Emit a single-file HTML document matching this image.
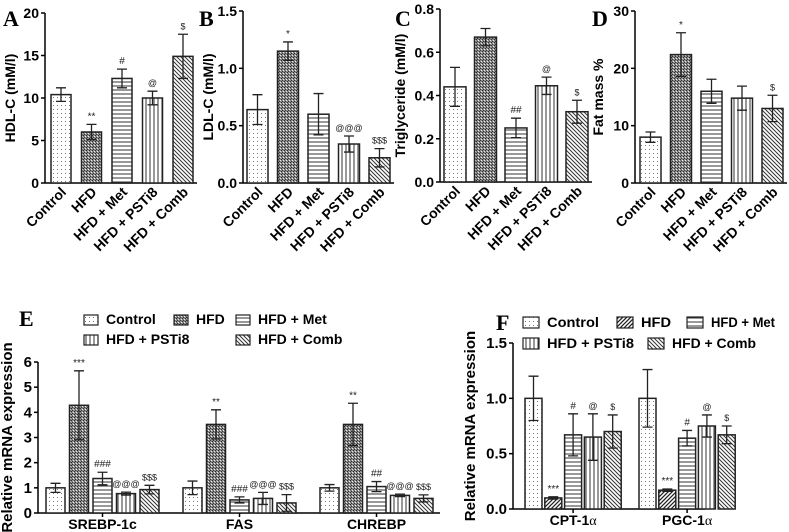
<!DOCTYPE html>
<html><head><meta charset="utf-8"><style>
body{margin:0;background:#fff}
svg{display:block;font-family:"Liberation Sans",Arial,sans-serif;font-weight:bold}
</style></head><body>
<svg id="fig" width="789" height="532" viewBox="0 0 789 532" xmlns="http://www.w3.org/2000/svg">
<defs>
<pattern id="p0" width="4" height="4" patternUnits="userSpaceOnUse"><rect width="4" height="4" fill="#fff"/><rect x="1" y="1" width="1" height="1" fill="#777"/></pattern>
<pattern id="p1" width="3" height="3" patternUnits="userSpaceOnUse"><rect width="3" height="3" fill="#999"/><path d="M0 3L3 0" stroke="#222" stroke-width="0.9"/><rect x="1" y="1" width="1" height="1" fill="#eee"/></pattern>
<pattern id="p1f" width="4" height="4" patternUnits="userSpaceOnUse"><rect width="4" height="4" fill="#fff"/><path d="M-1 1L1 -1M0 4L4 0M3 5L5 3" stroke="#222" stroke-width="1.3"/></pattern>
<pattern id="p2" width="4" height="4" patternUnits="userSpaceOnUse"><rect width="4" height="4" fill="#fff"/><path d="M0 2H4" stroke="#333" stroke-width="1"/></pattern>
<pattern id="p3" width="4" height="4" patternUnits="userSpaceOnUse"><rect width="4" height="4" fill="#fff"/><path d="M2 0V4" stroke="#333" stroke-width="1"/></pattern>
<pattern id="p4" width="4" height="4" patternUnits="userSpaceOnUse"><rect width="4" height="4" fill="#fff"/><path d="M-1 -1L5 5M-1 3L1 5M3 -1L5 1" stroke="#333" stroke-width="1"/></pattern>
</defs>
</svg>
<script>
const groups = ["Control","HFD","HFD + Met","HFD + PSTi8","HFD + Comb"];
const aVals = [10.4,6.0,12.3,10.0,14.9];
const aErr = [0.8,0.9,1.1,0.8,2.6];
const aMarks = ["","**","#","@","$"];
const aTicks = ["0","5","10","15","20"];
const bVals = [0.64,1.15,0.60,0.34,0.22];
const bErr = [0.13,0.08,0.18,0.07,0.08];
const bMarks = ["","*","","@@@","$$$"];
const bTicks = ["0.0","0.5","1.0","1.5"];
const cVals = [0.44,0.67,0.25,0.445,0.325];
const cErr = [0.09,0.04,0.045,0.04,0.053];
const cMarks = ["","","##","@","$"];
const cTicks = ["0.0","0.2","0.4","0.6","0.8"];
const dVals = [8,22.4,16,14.8,13];
const dErr = [0.9,3.8,2.1,2.1,2.3];
const dMarks = ["","*","","","$"];
const dTicks = ["0","10","20","30"];
const eGenes = ["SREBP-1c","FAS","CHREBP"];
const eVals = [[1.0,4.28,1.37,0.77,0.93],[1.0,3.52,0.52,0.58,0.4],[1.0,3.52,1.05,0.7,0.58]];
const eErr = [[0.18,1.37,0.25,0.06,0.17],[0.27,0.58,0.12,0.24,0.33],[0.13,0.84,0.2,0.05,0.14]];
const eMarks = [["","***","###","@@@","$$$"],["","**","###","@@@","$$$"],["","**","##","@@@","$$$"]];
const eTicks = ["0","1","2","3","4","5","6"];
const fGenes = ["CPT-1","PGC-1"];
const fVals = [[1.0,0.1,0.67,0.65,0.7],[1.0,0.17,0.64,0.75,0.67]];
const fErr = [[0.2,0.01,0.19,0.21,0.15],[0.26,0.01,0.07,0.1,0.08]];
const fMarks = [["","***","#","@","$"],["","***","#","@","$"]];
const fTicks = ["0.0","0.5","1.0","1.5"];

const svg=document.getElementById('fig');
const NS="http://www.w3.org/2000/svg";
function mk(tag,attrs,parent){const e=document.createElementNS(NS,tag);for(const k in attrs)e.setAttribute(k,attrs[k]);(parent||svg).appendChild(e);return e;}
function txt(x,y,s,size,anchor,parent,extra){const t=mk('text',Object.assign({x:x,y:y,'font-size':size,'text-anchor':anchor||'middle'},extra||{}),parent);t.textContent=s;return t;}

function axisY(g,ax,y0,ytop,ticks,label,lx,fs,lfs){
  mk('line',{x1:ax,y1:y0,x2:ax,y2:ytop,stroke:'#000','stroke-width':1.5},g);
  const n=ticks.length-1;
  ticks.forEach((t,i)=>{const y=y0-(y0-ytop)*i/n;
    mk('line',{x1:ax-4,y1:y,x2:ax,y2:y,stroke:'#000','stroke-width':1.5},g);
    const tl=txt(ax-6,y+5,t,fs,'end',g);
    
    });
  const yl=txt(lx,(y0+ytop)/2,label,lfs,'middle',g,{transform:`rotate(-90 ${lx} ${(y0+ytop)/2})`});
  
  
}
function bar(g,x,w,y0,yOf,v,e,pat,mark,i){
  const yt=yOf(v);
  const r=mk('rect',{x:x,y:yt,width:w,height:y0-yt,fill:`url(#${pat})`,stroke:'#222','stroke-width':1.5},g);
  
  
  const cx=x+w/2,y1=yOf(v+e),y2=yOf(v-e);
  const eb=mk('path',{d:`M${cx} ${y1}V${y2}M${cx-5} ${y1}H${cx+5}M${cx-5} ${y2}H${cx+5}`,stroke:'#222','stroke-width':1.3,fill:'none'},g);
  
  
  if(mark){const m=txt(cx,y1-5,mark,mark[0]=='*'||mark[0]=='#'?10:9,'middle',g,{'font-weight':'normal',fill:'#222'});
    
    }
}
const pats=['p0','p1','p2','p3','p4'];
function topPanel(name,letter,lx0,ax,y0,ytop,ticks,vals,err,marks,label,ylx,first,w){
  const g=mk('g',{});
  
  
  const L=txt(lx0,26,letter,22,'start',g,{'font-family':'"Liberation Serif",serif'});
  
  
  const max=parseFloat(ticks[ticks.length-1]);
  const yOf=v=>y0-(y0-ytop)*v/max;
  axisY(g,ax,y0,ytop,ticks,label,ylx,14,14);
  const step=30.5;
  mk('line',{x1:ax,y1:y0,x2:first+4*step+w+4,y2:y0,stroke:'#000','stroke-width':1.5},g);
  vals.forEach((v,i)=>{const x=first+i*step;bar(g,x,w,y0,yOf,v,err[i],pats[i],marks[i],i);
    const cx=x+w/2;
    const t=txt(cx+6,y0+10,groups[i],14,'end',g,{transform:`rotate(-45 ${cx+6} ${y0+10})`});
    
    });
}
topPanel('a','A',3,45,183,13,aTicks,aVals,aErr,aMarks,'HDL-C (mM/l)',15,51,20);
topPanel('b','B',199,243,183,11,bTicks,bVals,bErr,bMarks,'LDL-C (mM/l)',213,247,21);
topPanel('c','C',395,440,182,9,cTicks,cVals,cErr,cMarks,'Triglyceride (mM/l)',405,444,22);
topPanel('d','D',592,635,183,11,dTicks,dVals,dErr,dMarks,'Fat mass %',603,640,21);

function legend(g,xs,ys,pl,size,bw,tl){
  groups.forEach((n,i)=>{const x=xs[i],y=ys[i];
    const b=mk('rect',{x:x,y:y-bw[1]+1,width:bw[0],height:bw[1],fill:`url(#${pl[i]})`,stroke:'#222','stroke-width':1.2},g);
    
    
    const ex=tl?{textLength:tl[i],lengthAdjust:'spacingAndGlyphs'}:{};
    const t=txt(x+bw[0]+8,y,n,size,'start',g,ex);
    
    });
}
function geneGroup(g,ax,y0,ytop,ticks,genes,vals,err,marks,start,gstep,step,w,pl,axEnd,alpha){
  const max=parseFloat(ticks[ticks.length-1]);
  const yOf=v=>y0-(y0-ytop)*v/max;
  mk('line',{x1:ax,y1:y0,x2:axEnd,y2:y0,stroke:'#000','stroke-width':1.5},g);
  genes.forEach((gn,k)=>{
    const gx=start+k*gstep;
    vals[k].forEach((v,i)=>bar(g,gx+i*step,w,y0,yOf,v,err[k][i],pl[i],marks[k][i],i));
    const cx=gx+(4*step+w)/2;
    mk('line',{x1:cx,y1:y0,x2:cx,y2:y0+4,stroke:'#000','stroke-width':1.5},g);
    const t=txt(cx,y0+16,gn,14,'middle',g);
    if(alpha){const ts=document.createElementNS(NS,'tspan');ts.setAttribute('font-family','"Liberation Serif",serif');ts.setAttribute('font-weight','normal');ts.textContent='α';t.appendChild(ts);}
    
    
  });
}
// Panel E
const gE=mk('g',{});


const LE=txt(19,326,'E',22,'start',gE,{'font-family':'"Liberation Serif",serif'});


legend(gE,[84,174,236,84,236],[324,324,324,344,344],pats,14,[14,10]);
axisY(gE,38,513,362,eTicks,'Relative mRNA expression',12,15,15);
geneGroup(gE,38,513,362,eTicks,eGenes,eVals,eErr,eMarks,46,137,23.5,19,pats,440,false);
// Panel F
const gF=mk('g',{});


const LF=txt(496,330,'F',22,'start',gF,{'font-family':'"Liberation Serif",serif'});


const patsF=['p0','p1f','p2','p3','p4'];
legend(gF,[523,617,687,523,648],[327,327,327,348,348],patsF,14,[16,11],[52,30,64,87,84]);
axisY(gF,513,509,343,fTicks,'Relative mRNA expression',475,15,15);
geneGroup(gF,513,509,343,fTicks,fGenes,fVals,fErr,fMarks,525,114,19.8,17,patsF,705,true);
</script>
</body></html>
